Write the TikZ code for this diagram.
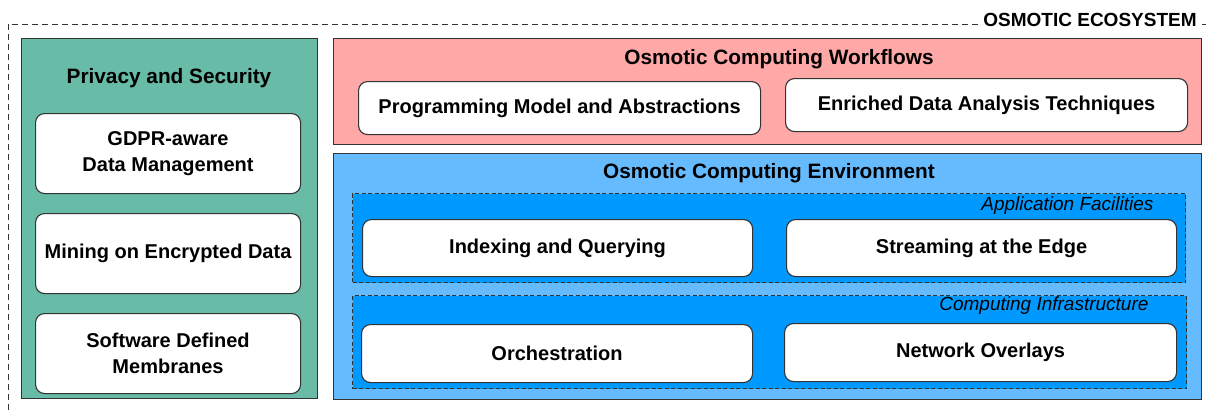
\documentclass[tikz,border=0pt]{standalone}
\usepackage{fontspec}
\setmainfont{Liberation Sans}

\definecolor{secgreen}{HTML}{67BBA7}
\definecolor{flowpink}{HTML}{FFA8A8}
\definecolor{envblue}{HTML}{66BBFF}
\definecolor{layerblue}{HTML}{0099FF}
\definecolor{edgegray}{HTML}{333333}

\tikzset{
  zone/.style={draw=edgegray, line width=1.4pt, inner sep=0pt, anchor=north west},
  layer/.style={draw=edgegray, line width=1.1pt, dash pattern=on 4pt off 2.5pt,
    fill=layerblue, inner sep=0pt, anchor=north west},
  item/.style={draw=edgegray, line width=1.1pt, fill=white, rounded corners=9pt,
    inner sep=0pt, anchor=north west, align=center,
    font=\fontsize{20}{26}\selectfont\bfseries},
  heading/.style={font=\fontsize{20.8}{24}\selectfont\bfseries},
  tag/.style={font=\fontsize{19}{22}\selectfont\itshape, anchor=east},
}

\begin{document}
\begin{tikzpicture}[x=1pt, y=-1pt]
  \useasboundingbox (0,0) rectangle (1206,410);

  % outer frame of the ecosystem, runs off the page on the right and bottom
  \draw[edgegray, line width=0.9pt, dash pattern=on 6pt off 4pt] (8,440) |- (1240,24);
  \node[fill=white, inner sep=3pt, font=\fontsize{19}{22}\selectfont\bfseries]
    (ecosystem) at (1090,20) {OSMOTIC ECOSYSTEM};

  % privacy column
  \node[zone, fill=secgreen, minimum width=296, minimum height=360] (privacy) at (21,38) {};
  \node[heading] (privacytitle) at (169,78.5) {Privacy and Security};
  \foreach \y/\name/\txt in {113/gdpr/{GDPR-aware\\Data Management},
                             213/mining/{Mining on Encrypted Data},
                             313/membranes/{Software Defined\\Membranes}} {
    \node[item, minimum width=265, minimum height=80] (\name) at (35,\y) {\txt};
  }

  % workflows
  \node[zone, fill=flowpink, minimum width=868, minimum height=106] (workflows) at (333,38) {};
  \node[heading] (workflowstitle) at (779,59.5) {Osmotic Computing Workflows};
  \node[item, minimum width=402, minimum height=53] (programming) at (358,81)
    {Programming Model and Abstractions};
  \node[item, minimum width=402, minimum height=53] (enriched) at (785,78)
    {Enriched Data Analysis Techniques};

  % environment with its two layers
  \node[zone, fill=envblue, minimum width=868, minimum height=246] (environment) at (333,153) {};
  \node[heading] (environmenttitle) at (769,173.5) {Osmotic Computing Environment};

  \node[layer, minimum width=833, minimum height=89] (facilities) at (352,193) {};
  \node[tag] (facilitiestag) at (1157,206) {Application Facilities};
  \node[item, minimum width=390, minimum height=57] (indexing) at (362,219) {Indexing and Querying};
  \node[item, minimum width=390, minimum height=57] (streaming) at (786,219) {Streaming at the Edge};

  \node[layer, minimum width=834, minimum height=93] (infrastructure) at (352,295) {};
  \node[tag] (infrastructuretag) at (1152,306) {Computing Infrastructure};
  \node[item, minimum width=391, minimum height=58] (orchestration) at (361,324) {Orchestration};
  \node[item, minimum width=392, minimum height=58] (overlays) at (784,323) {Network Overlays};
\end{tikzpicture}
\end{document}
